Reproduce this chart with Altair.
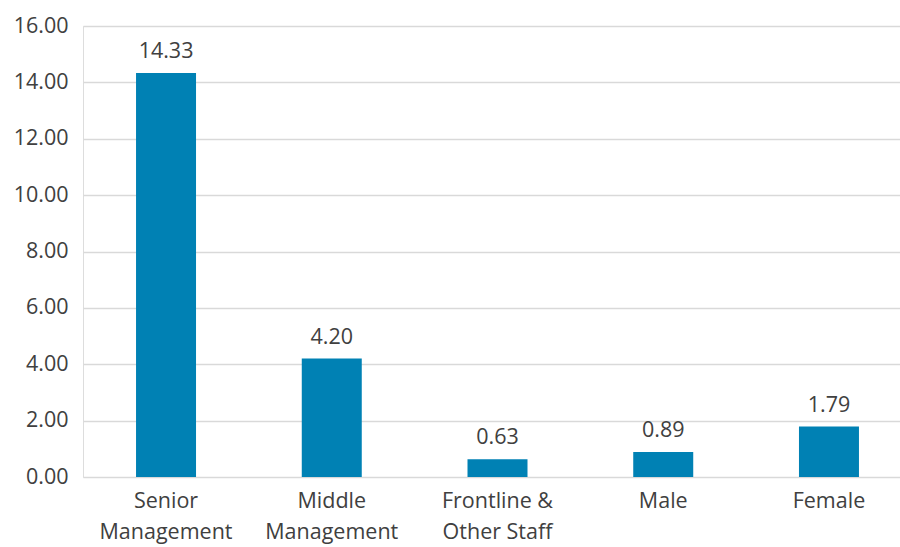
import altair as alt
import pandas as pd

categories = ["Senior|Management", "Middle|Management", "Frontline &|Other Staff", "Male", "Female"]
values = [14.33, 4.20, 0.63, 0.89, 1.79]
y_ticks = [0, 2, 4, 6, 8, 10, 12, 14, 16]

df = pd.DataFrame({"cat": categories, "val": values})

FONT = "Open Sans"
TXT = "#404040"
BAR = "#0081B4"
FS = 21.5

x = alt.X(
    "cat:N",
    sort=categories,
    title=None,
    scale=alt.Scale(range=[0, 829], paddingInner=0.638, paddingOuter=0.32),
    axis=alt.Axis(
        domain=False, ticks=False, labelAngle=0, labelFont=FONT, labelFontSize=FS,
        labelColor=TXT, labelPadding=13, labelBaseline="top", labelLineHeight=31,
        labelExpr="split(datum.label, '|')", labelLimit=300,
    ),
)
y = alt.Y(
    "val:Q",
    title=None,
    scale=alt.Scale(domain=[0, 16], nice=False),
    axis=alt.Axis(
        values=y_ticks, format=".2f", domain=False, ticks=False, grid=True,
        gridColor="#d9d9d9", gridWidth=1.5, labelFont=FONT, labelFontSize=FS,
        labelColor=TXT, labelPadding=15,
    ),
)

bars = alt.Chart(df).mark_bar(color=BAR).encode(x=x, y=y)
labels = alt.Chart(df).mark_text(
    font=FONT, fontSize=FS, color=TXT, baseline="alphabetic", dy=-15
).encode(x=x, y=y, text=alt.Text("val:Q", format=".2f"))

chart = (
    alt.layer(bars, labels)
    .properties(
        width=817,
        height=451,
        autosize=alt.AutoSizeParams(type="none"),
        padding={"left": 83, "top": 26, "right": 0, "bottom": 70},
    )
    .configure_view(stroke=None)
    .configure(background="white")
)

chart.save("out.html", embed_options={"renderer": "svg", "actions": False})
